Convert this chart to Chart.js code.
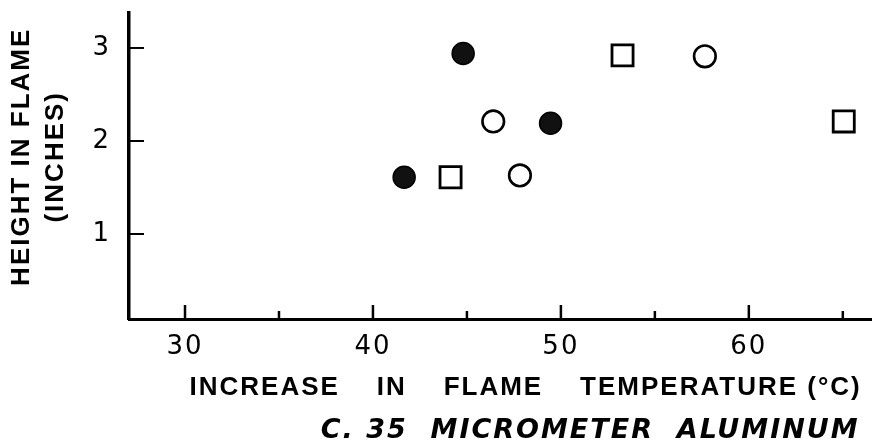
<!DOCTYPE html>
<html>
<head>
<meta charset="utf-8">
<script src="https://cdn.jsdelivr.net/npm/chart.js@4/dist/chart.umd.min.js"></script>
<style>
  html, body { margin: 0; padding: 0; background: #fff; }
  #wrap { width: 872px; height: 441px; }
</style>
</head>
<body>
<div id="wrap"><canvas id="c" width="872" height="441"></canvas></div>
<script>
// ---- data ----
const filledX = [44.8, 49.45, 41.66];
const filledY = [2.94, 2.19, 1.61];
const openX = [46.4, 47.82, 57.66];
const openY = [2.21, 1.63, 2.91];
const squareX = [44.13, 53.28, 65.05];
const squareY = [1.61, 2.92, 2.21];
const xTicks = [30, 35, 40, 45, 50, 55, 60, 65];
const xLabelTicks = [30, 40, 50, 60];
const yTicks = [1, 2, 3];
const xTitle = 'INCREASE    IN    FLAME    TEMPERATURE (°C) ';
const yTitle = ['  HEIGHT IN FLAME', '  (INCHES)'];
const subTitle = 'C. 35  MICROMETER  ALUMINUM ';

const pts = (xs, ys) => xs.map((x, i) => ({x: x, y: ys[i]}));

const lettering = {
  id: 'lettering',
  beforeDraw(chart) { chart.ctx.letterSpacing = '2px'; }
};

const innerTicks = {
  id: 'innerTicks',
  afterDatasetsDraw(chart) {
    const ctx = chart.ctx, xs = chart.scales.x, ys = chart.scales.y;
    const ca = chart.chartArea;
    ctx.save();
    ctx.strokeStyle = '#000';
    ctx.lineWidth = 2.5;
    xTicks.forEach(v => {
      const px = xs.getPixelForValue(v);
      const len = xLabelTicks.includes(v) ? 14 : 8;
      ctx.beginPath();
      ctx.moveTo(px, ca.bottom);
      ctx.lineTo(px, ca.bottom - len);
      ctx.stroke();
    });
    ctx.lineWidth = 2;
    yTicks.forEach(v => {
      const py = ys.getPixelForValue(v);
      ctx.beginPath();
      ctx.moveTo(ca.left, py);
      ctx.lineTo(ca.left + 15, py);
      ctx.stroke();
    });
    ctx.restore();
  }
};

new Chart(document.getElementById('c'), {
  type: 'scatter',
  data: {
    datasets: [
      { label: 'filled', data: pts(filledX, filledY), pointStyle: 'circle', pointRadius: 11,
        backgroundColor: '#111', borderColor: '#000', borderWidth: 1.5 },
      { label: 'open', data: pts(openX, openY), pointStyle: 'circle', pointRadius: 10.8,
        backgroundColor: '#fff', borderColor: '#000', borderWidth: 2.6 },
      { label: 'square', data: pts(squareX, squareY), pointStyle: 'rect', pointRadius: 14.9,
        backgroundColor: '#fff', borderColor: '#000', borderWidth: 2.8 }
    ]
  },
  options: {
    responsive: false,
    animation: false,
    devicePixelRatio: 1,
    layout: { autoPadding: false, padding: { top: 13, right: 1, left: 0, bottom: 0 } },
    plugins: {
      legend: { display: false },
      tooltip: { enabled: false },
      title: {
        display: true, position: 'bottom', align: 'end', text: subTitle, color: '#000',
        font: { family: 'DejaVu Sans', size: 27, weight: 'bold', style: 'italic', lineHeight: '20px' },
        padding: { top: 0, bottom: 0 }
      }
    },
    scales: {
      x: {
        type: 'linear', min: 27.02, max: 66.5,
        afterBuildTicks: s => { s.ticks = xTicks.map(v => ({value: v})); },
        afterFit: s => { s.height = 102; s.paddingLeft = 0; s.paddingRight = 0; },
        grid: { display: false, drawTicks: false },
        border: { display: true, color: '#000', width: 3 },
        ticks: {
          autoSkip: false, maxRotation: 0, padding: 13, color: '#000',
          font: { family: 'DejaVu Sans', size: 26 },
          callback: v => xLabelTicks.includes(v) ? String(v) : ''
        },
        title: {
          display: true, text: xTitle, align: 'end', color: '#000',
          font: { family: 'Liberation Sans', size: 26, weight: 'bold', lineHeight: '30px' },
          padding: { top: 0, bottom: 18 }
        }
      },
      y: {
        type: 'linear', min: 0.086, max: 3.376,
        afterBuildTicks: s => { s.ticks = yTicks.map(v => ({value: v})); },
        afterFit: s => { s.width = 129; s.paddingTop = 0; s.paddingBottom = 0; },
        grid: { display: false, drawTicks: false },
        border: { display: true, color: '#000', width: 3.5 },
        ticks: {
          autoSkip: false, padding: 18, color: '#000',
          font: { family: 'DejaVu Sans', size: 26 },
          callback: v => String(v)
        },
        title: {
          display: true, text: yTitle, color: '#000',
          font: { family: 'Liberation Sans', size: 26, weight: 'bold', lineHeight: '34px' },
          padding: { top: 5, bottom: 0 }
        }
      }
    }
  },
  plugins: [lettering, innerTicks]
});
</script>
</body>
</html>
